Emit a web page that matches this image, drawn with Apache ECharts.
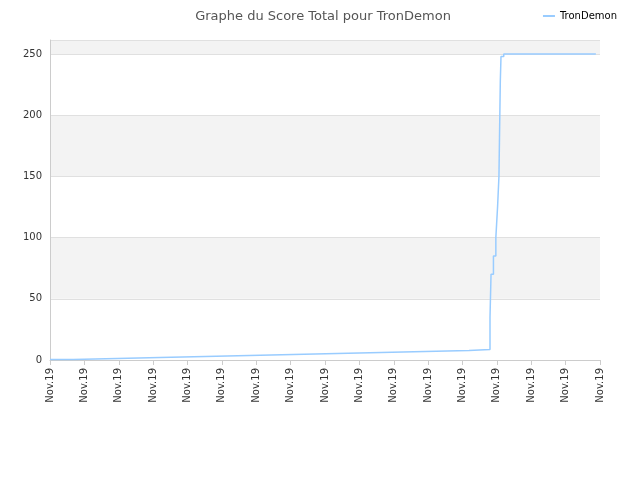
<!DOCTYPE html>
<html>
<head>
<meta charset="utf-8">
<script src="https://cdn.jsdelivr.net/npm/echarts@6/dist/echarts.min.js"></script>
<style>html,body{margin:0;padding:0;background:#fff}#chart{width:640px;height:480px}</style>
</head>
<body>
<div id="chart"></div>
<script>
// position on the time axis (0..160) and score
const xs = [0, 6.7, 19.5, 32, 45.1, 57.9, 70.7, 83.5, 96.3, 109.1, 121.9, 128, 128.3, 129, 129.7, 130.2, 130.6, 131, 131.2, 132, 158.8];
const scores = [0.5, 1.3, 2.1, 2.9, 3.7, 4.5, 5.3, 6.1, 6.9, 7.7, 8.5, 35, 70, 85, 100, 125, 150, 228, 248, 250, 250];
const tickLabel = 'Nov.19';

let myChart = echarts.init(document.getElementById('chart'));
myChart.setOption({
  animation: false,
  title: {
    text: 'Graphe du Score Total pour TronDemon',
    left: 318, top: 5, textAlign: 'center',
    textStyle: { fontSize: 13, fontWeight: 'normal', color: '#555', fontFamily: 'DejaVu Sans' }
  },
  legend: {
    right: 18, top: 6, itemWidth: 12, itemHeight: 2,
    data: [{ name: 'TronDemon', icon: 'rect' }],
    textStyle: { fontSize: 10, color: '#000', fontFamily: 'DejaVu Sans' }
  },
  grid: { left: 50, right: 40, top: 40, bottom: 120 },
  xAxis: {
    type: 'value', min: 0, max: 160, interval: 10,
    axisLine: { lineStyle: { color: '#ccc' } },
    axisTick: { show: true, lineStyle: { color: '#ccc' } },
    splitLine: { show: false },
    axisLabel: { rotate: 90, formatter: () => tickLabel, fontSize: 10, color: '#333', fontFamily: 'DejaVu Sans' }
  },
  yAxis: {
    type: 'value', min: 0, max: 261.5, interval: 50,
    axisLine: { show: true, lineStyle: { color: '#ccc' } },
    axisTick: { show: false },
    axisLabel: { fontSize: 10, color: '#333', fontFamily: 'DejaVu Sans', showMaxLabel: false },
    splitLine: { lineStyle: { color: '#e0e0e0' } },
    splitArea: { show: true, areaStyle: { color: ['#ffffff', '#f3f3f3'] } }
  },
  series: [{
    name: 'TronDemon', type: 'line', step: 'end', showSymbol: false,
    color: '#99ccff', lineStyle: { width: 1.5 },
    data: xs.map((x, i) => [x, scores[i]])
  }]
});
</script>
</body>
</html>
